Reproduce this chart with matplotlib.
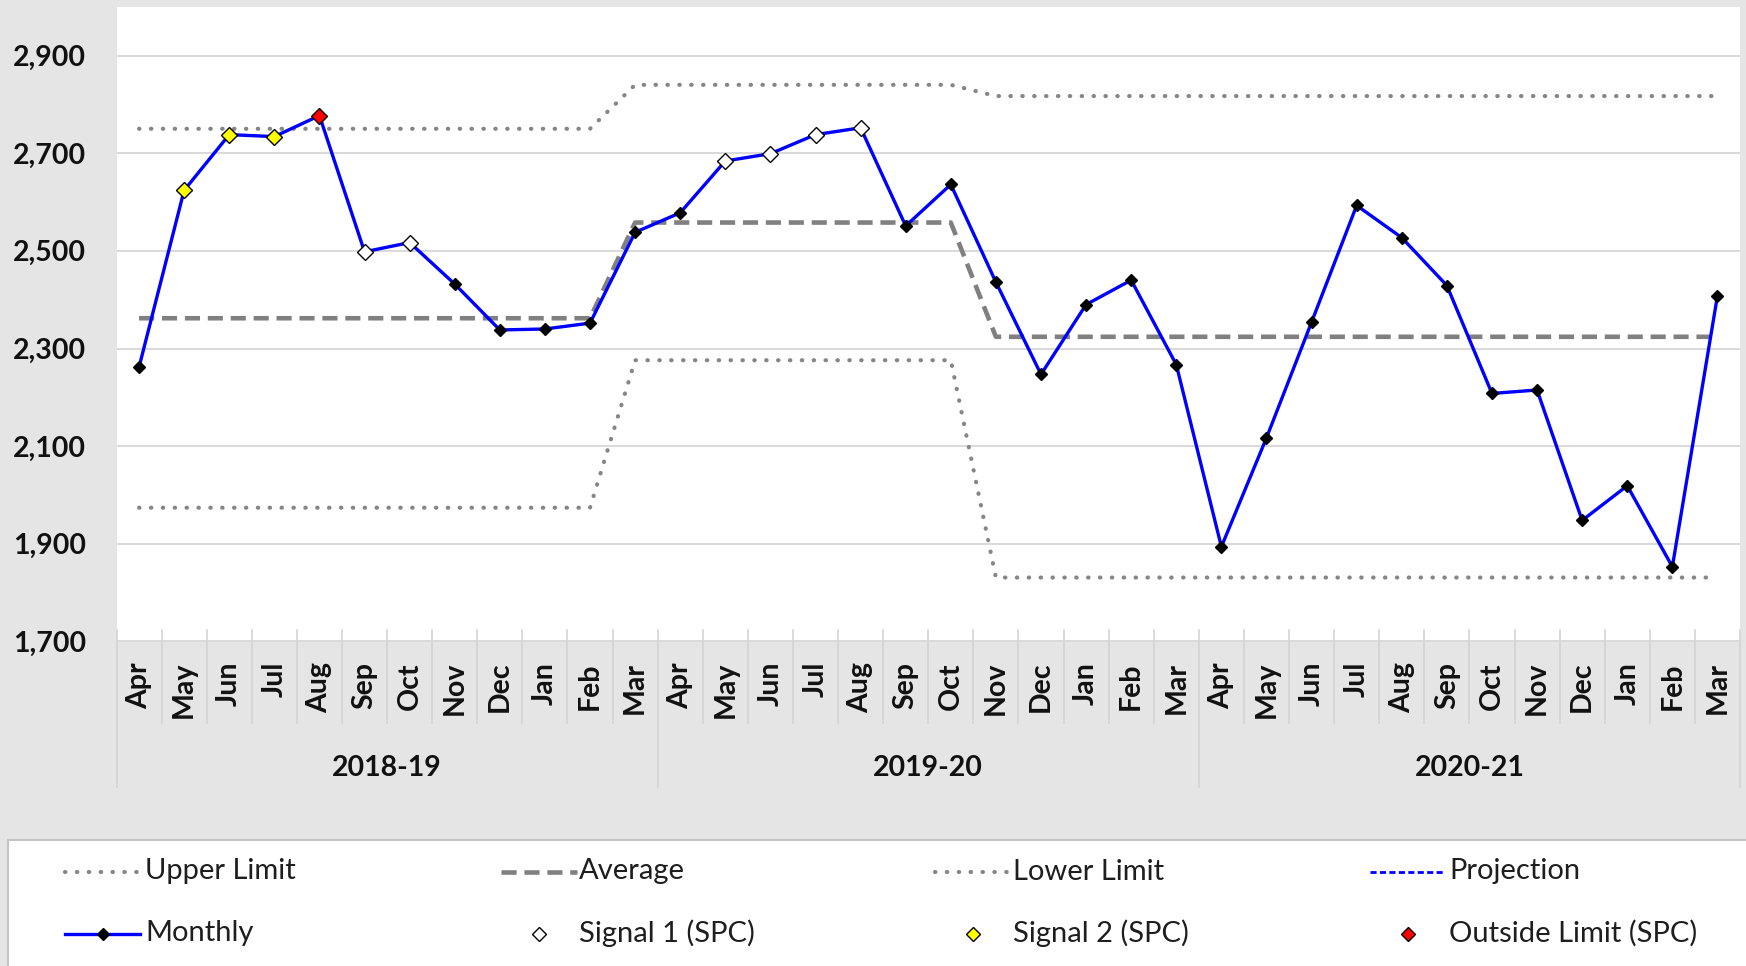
import matplotlib
matplotlib.use('Agg')
import matplotlib.pyplot as plt
import matplotlib.transforms as mtransforms
from matplotlib.lines import Line2D
from matplotlib.patches import Rectangle

# ---------------- data ----------------
months = ['Apr', 'May', 'Jun', 'Jul', 'Aug', 'Sep', 'Oct', 'Nov', 'Dec', 'Jan', 'Feb', 'Mar'] * 3
years = ['2018-19', '2019-20', '2020-21']
monthly = [2262, 2624, 2738, 2734, 2777, 2498, 2517, 2432, 2338, 2340, 2352, 2538,
           2578, 2684, 2699, 2738, 2752, 2551, 2636, 2436, 2247, 2390, 2440, 2267,
           1894, 2117, 2354, 2593, 2527, 2429, 2208, 2215, 1948, 2019, 1853, 2408]
average = [2362] * 11 + [2558] * 8 + [2324] * 17
upper_limit = [2750] * 11 + [2840] * 8 + [2817] * 17
lower_limit = [1974] * 11 + [2276] * 8 + [1831] * 17
projection = []  # no projection values shown
signal1_idx = [5, 6, 13, 14, 15, 16]
signal2_idx = [1, 2, 3]
outside_idx = [4]
y_ticks = [1700, 1900, 2100, 2300, 2500, 2700, 2900]

# ---------------- figure ----------------
W, H = 1746, 966
BG = '#e5e5e5'
FONT = 'Lato'
plt.rcParams['font.family'] = [FONT, 'DejaVu Sans']

fig = plt.figure(figsize=(W / 100, H / 100), dpi=100, facecolor=BG)
# pixel (from top-left) -> figure transform
pix = mtransforms.Affine2D().scale(1 / W, -1 / H).translate(0, 1) + fig.transFigure

ax_l, ax_r, ax_t, ax_b = 116.5, 1740, 6.7, 641.5
ax = fig.add_axes([ax_l / W, 1 - ax_b / H, (ax_r - ax_l) / W, (ax_b - ax_t) / H])
ax.set_facecolor('white')
n = len(monthly)
x = list(range(n))
ax.set_xlim(-0.5, n - 0.5)
ax.set_ylim(1700, 3000)
for s in ax.spines.values():
    s.set_visible(False)

ax.set_yticks(y_ticks)
ax.set_yticklabels([f'{v:,}' for v in y_ticks], fontsize=20.5, fontweight='bold', color='#111111')
ax.tick_params(axis='y', length=0, pad=22)
ax.set_xticks([])
ax.grid(axis='y', color='#d9d9d9', linewidth=1.4, zorder=0)
ax.set_axisbelow(True)

LIM_COLOR = '#868686'
dot_style = dict(color=LIM_COLOR, linewidth=3.0, linestyle=(0, (0.1, 2.75)),
                 dash_capstyle='round', solid_capstyle='round')
avg_style = dict(color='#808080', linewidth=3.3, linestyle=(0, (3.3, 1.7)), dash_capstyle='butt')
mon_style = dict(color='#0000ff', linewidth=2.4, marker='D', markersize=6.4,
                 markerfacecolor='black', markeredgecolor='black')

ax.plot(x, upper_limit, zorder=2, **dot_style)
ax.plot(x, lower_limit, zorder=2, **dot_style)
ax.plot(x, average, zorder=2, **avg_style)
ax.plot(x, monthly, zorder=3, **mon_style)

sig_ms = 7.8
for idxs, fc in [(signal1_idx, 'white'), (signal2_idx, '#ffff00'), (outside_idx, '#ff0000')]:
    ax.plot([i for i in idxs], [monthly[i] for i in idxs], linestyle='none', marker='D',
            markersize=sig_ms, markerfacecolor=fc, markeredgecolor='black',
            markeredgewidth=1.0, zorder=4)

# ---------------- category axis ----------------
bx = mtransforms.blended_transform_factory(ax.transData, pix)
SEP = '#d4d4d4'
for b in range(n + 1):
    xb = b - 0.5
    yend = 787 if b % 12 == 0 else 723
    ax.plot([xb, xb], [630, yend], transform=bx, color=SEP, linewidth=1.2,
            clip_on=False, zorder=1)
for i, m in enumerate(months):
    ax.text(i, 662, m, transform=bx, rotation=90, ha='center', va='top',
            fontsize=20.5, fontweight='bold', color='#111111')
for k, yname in enumerate(years):
    ax.text(12 * k + 5.5, 768, yname, transform=bx, ha='center', va='center',
            fontsize=20.5, fontweight='bold', color='#111111')

# ---------------- legend ----------------
fig.add_artist(Rectangle((8, 839.5), W, 200, transform=pix, facecolor='white',
                         edgecolor='#c4c4c4', linewidth=1.5, zorder=0))
row_y = [871.5, 933.5]
cols = [(65, 140, 145), (501, 577, 579), (935, 1011, 1013), (1370, 1445, 1449)]
TXT = '#1e1e1e'
LFS = 21

def legend_line(col, row, label, style, marker_only=None):
    x0, x1, xt = cols[col]
    y = row_y[row]
    if marker_only is None:
        fig.add_artist(Line2D([x0, x1], [y, y], transform=pix, **style))
    else:
        fig.add_artist(Line2D([(x0 + x1) / 2], [y], transform=pix, linestyle='none',
                              marker='D', markersize=sig_ms * 0.9,
                              markerfacecolor=marker_only,
                              markeredgecolor='black', markeredgewidth=1.0))
    fig.text(xt / W, 1 - y / H, label, ha='left', va='center', fontsize=LFS,
             color=TXT, transform=fig.transFigure)

legend_line(0, 0, 'Upper Limit', dot_style)
legend_line(1, 0, 'Average', avg_style)
legend_line(2, 0, 'Lower Limit', dot_style)
legend_line(3, 0, 'Projection', dict(color='#0000ff', linewidth=2.0, linestyle=(0, (2.2, 1.2))))
fig.add_artist(Line2D([cols[0][0], cols[0][1]], [row_y[1], row_y[1]], transform=pix,
                      color='#0000ff', linewidth=2.4))
fig.add_artist(Line2D([(cols[0][0] + cols[0][1]) / 2], [row_y[1]], transform=pix,
                      linestyle='none', marker='D', markersize=6.4,
                      markerfacecolor='black', markeredgecolor='black'))
fig.text(cols[0][2] / W, 1 - row_y[1] / H, 'Monthly', ha='left', va='center',
         fontsize=LFS, color=TXT)
legend_line(1, 1, 'Signal 1 (SPC)', None, marker_only='white')
legend_line(2, 1, 'Signal 2 (SPC)', None, marker_only='#ffff00')
legend_line(3, 1, 'Outside Limit (SPC)', None, marker_only='#ff0000')

fig.savefig('out.png', dpi=100, facecolor=BG)
